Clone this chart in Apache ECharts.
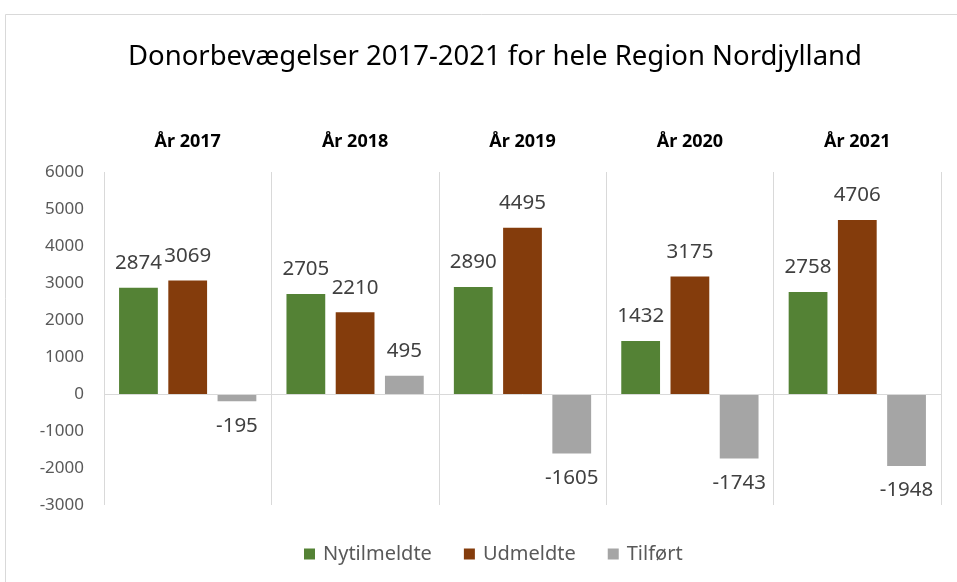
<!DOCTYPE html>
<html>
<head>
<meta charset="utf-8">
<title>Donorbevægelser 2017-2021</title>
<script src="https://cdn.jsdelivr.net/npm/echarts@6/dist/echarts.min.js"></script>
<style>
  html, body { margin: 0; padding: 0; background: #fff; }
  #chart { width: 957px; height: 582px; }
</style>
</head>
<body>
<div id="chart"></div>
<script>
// data
const years = ["År 2017", "År 2018", "År 2019", "År 2020", "År 2021"];
const nytilmeldte = [2874, 2705, 2890, 1432, 2758];
const udmeldte = [3069, 2210, 4495, 3175, 4706];
const tilfoert = [-195, 495, -1605, -1743, -1948];
const yTicks = { min: -3000, max: 6000, step: 1000 };

const FONT = "'Noto Sans', 'Open Sans', sans-serif";
const TEXT = "#404040";

// negative bars get their label below the bar, like Excel's "outside end"
function withLabels(values) {
    return values.map((v) => ({
        value: v,
        label: { position: v < 0 ? "bottom" : "top" },
    }));
}

function barSeries(name, values, color) {
    return {
        name: name,
        type: "bar",
        data: withLabels(values),
        itemStyle: { color: color },
        barGap: "27%",
        barCategoryGap: "18%",
        label: {
            show: true,
            distance: 14,
            color: TEXT,
            fontFamily: FONT,
            fontSize: 20.5,
        },
    };
}

const chart = echarts.init(document.getElementById("chart"), null, {
    renderer: "canvas",
});

const series = [
    barSeries("Nytilmeldte", nytilmeldte, "#548235"),
    barSeries("Udmeldte", udmeldte, "#843c0c"),
    barSeries("Tilført", tilfoert, "#a5a5a5"),
];

// zero line across the plot
series[0].markLine = {
    silent: true,
    symbol: ["none", "none"],
    label: { show: false },
    lineStyle: { color: "#d9d9d9", width: 1, type: "solid" },
    data: [{ yAxis: 0 }],
};

const options = {
    animation: false,
    backgroundColor: "#fff",
    graphic: [
        {
            type: "rect",
            shape: { x: 5.5, y: 14.5, width: 980, height: 600 },
            style: { fill: "none", stroke: "#d9d9d9", lineWidth: 1 },
            silent: true,
        },
    ],
    title: {
        text: "Donorbevægelser 2017-2021 for hele Region Nordjylland",
        left: 490,
        top: 38,
        textAlign: "center",
        textStyle: {
            fontFamily: FONT,
            fontSize: 27.5,
            fontWeight: "normal",
            color: "#000",
        },
    },
    legend: {
        left: 299,
        top: 539,
        icon: "rect",
        itemWidth: 11,
        itemHeight: 11,
        itemGap: 32,
        textStyle: {
            fontFamily: FONT,
            fontSize: 20,
            color: "#595959",
            padding: [0, 0, 0, 3],
        },
        data: ["Nytilmeldte", "Udmeldte", "Tilført"],
    },
    grid: {
        left: 104,
        right: 16,
        top: 172,
        bottom: 77,
        containLabel: false,
    },
    xAxis: {
        type: "category",
        position: "top",
        data: years,
        axisLine: { show: false, onZero: false },
        axisTick: { show: false },
        splitLine: {
            show: true,
            lineStyle: { color: "#d9d9d9", width: 1 },
        },
        axisLabel: {
            margin: 21,
            fontFamily: FONT,
            fontSize: 18,
            fontWeight: "bold",
            color: "#000",
        },
    },
    yAxis: {
        type: "value",
        min: yTicks.min,
        max: yTicks.max,
        interval: yTicks.step,
        axisLine: { show: false },
        axisTick: { show: false },
        splitLine: { show: false },
        axisLabel: {
            margin: 20,
            fontFamily: FONT,
            fontSize: 17,
            color: "#595959",
            formatter: (v) => String(v),
        },
    },
    series: series,
};

chart.setOption(options);
</script>
</body>
</html>
